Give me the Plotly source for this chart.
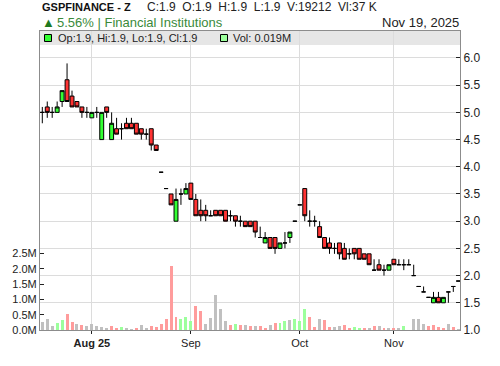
import plotly.graph_objects as go

# ---- data ----
opens = [5.0, 5.1, 5.0, 5.0, 5.2, 5.6, 5.3, 5.2, 5.1, 5.0,
         4.9, 5.0, 4.5, 5.1, 4.5, 4.7, 4.7, 4.8, 4.8, 4.8,
         4.7, 4.6, 4.7, 4.4, 3.9, 3.6, 3.5, 3.0, 3.5, 3.5,
         3.7, 3.4, 3.2, 3.2, 3.1, 3.2, 3.2, 3.2, 3.1, 3.1,
         3.0, 3.0, 3.0, 3.0, 2.7, 2.6, 2.7, 2.7, 2.5, 2.6,
         2.7, 3.0, 3.3, 3.6, 3.0, 3.0, 2.9, 2.7, 2.6, 2.5,
         2.6, 2.5, 2.4, 2.5, 2.5, 2.4, 2.4, 2.1, 2.2, 2.1,
         2.1, 2.3, 2.2, 2.2, 2.2, 2.0, 1.8, 1.7, 1.6, 1.5,
         1.6, 1.5, 1.7, 1.8, 1.9]
highs = [5.1, 5.2, 5.1, 5.2, 5.4, 5.9, 5.4, 5.2, 5.1, 5.1,
         5.0, 5.1, 5.0, 5.1, 5.0, 4.9, 4.8, 4.9, 4.9, 4.8,
         4.7, 4.7, 4.7, 4.4, 3.9, 3.6, 3.5, 3.6, 3.6, 3.7,
         3.7, 3.5, 3.4, 3.3, 3.2, 3.2, 3.2, 3.2, 3.2, 3.1,
         3.1, 3.0, 3.0, 3.0, 2.9, 2.8, 2.7, 2.7, 2.6, 2.8,
         2.8, 3.0, 3.3, 3.6, 3.2, 3.1, 3.0, 2.7, 2.7, 2.6,
         2.6, 2.6, 2.5, 2.5, 2.5, 2.4, 2.4, 2.3, 2.3, 2.2,
         2.2, 2.3, 2.3, 2.3, 2.3, 2.2, 1.8, 1.8, 1.6, 1.7,
         1.7, 1.6, 1.7, 1.8, 1.9]
lows = [4.8, 4.9, 4.9, 5.0, 5.1, 5.2, 5.1, 5.1, 4.9, 4.9,
        4.9, 4.9, 4.5, 4.9, 4.5, 4.6, 4.5, 4.7, 4.7, 4.6,
        4.5, 4.5, 4.3, 4.3, 3.9, 3.6, 3.3, 3.0, 3.3, 3.5,
        3.4, 3.1, 3.0, 3.0, 3.1, 3.1, 3.1, 3.0, 3.0, 2.9,
        2.9, 2.9, 2.9, 2.7, 2.7, 2.6, 2.5, 2.4, 2.5, 2.5,
        2.6, 3.0, 3.3, 3.0, 2.9, 2.9, 2.7, 2.5, 2.4, 2.4,
        2.3, 2.3, 2.3, 2.3, 2.3, 2.3, 2.2, 2.1, 2.1, 2.0,
        2.1, 2.2, 2.2, 2.1, 2.2, 2.0, 1.8, 1.7, 1.6, 1.5,
        1.5, 1.5, 1.5, 1.7, 1.9]
closes = [5.0, 5.0, 5.0, 5.1, 5.4, 5.2, 5.1, 5.1, 5.0, 5.0,
          5.0, 5.0, 5.0, 5.0, 4.8, 4.6, 4.7, 4.7, 4.7, 4.6,
          4.6, 4.6, 4.4, 4.3, 3.9, 3.6, 3.3, 3.4, 3.5, 3.6,
          3.4, 3.1, 3.1, 3.1, 3.1, 3.1, 3.1, 3.0, 3.1, 3.0,
          3.0, 2.9, 2.9, 2.8, 2.7, 2.7, 2.5, 2.5, 2.6, 2.6,
          2.8, 3.0, 3.3, 3.1, 3.0, 3.0, 2.7, 2.5, 2.5, 2.5,
          2.4, 2.3, 2.4, 2.4, 2.3, 2.3, 2.2, 2.1, 2.1, 2.1,
          2.2, 2.2, 2.2, 2.2, 2.2, 2.0, 1.8, 1.7, 1.6, 1.6,
          1.5, 1.6, 1.7, 1.8, 1.9]
volumes_m = [0.27, 0.36, 0.13, 0.23, 0.33, 0.52, 0.26, 0.20, 0.16, 0.13,
             0.20, 0.13, 0.10, 0.07, 0.13, 0.07, 0.10, 0.07, 0.03, 0.07,
             0.16, 0.07, 0.13, 0.10, 0.20, 0.36, 2.09, 0.42, 0.36, 0.42,
             0.29, 0.78, 0.62, 0.20, 0.39, 1.14, 0.68, 0.29, 0.16, 0.20,
             0.16, 0.16, 0.13, 0.13, 0.13, 0.04, 0.16, 0.23, 0.23, 0.29,
             0.33, 0.36, 0.29, 0.70, 0.43, 0.10, 0.36, 0.33, 0.10, 0.10,
             0.13, 0.16, 0.07, 0.10, 0.04, 0.04, 0.07, 0.13, 0.13, 0.07,
             0.04, 0.07, 0.04, 0.13, 0.0, 0.37, 0.37, 0.20, 0.13, 0.16,
             0.10, 0.04, 0.20, 0.10, 0.02]
# volume direction: u = up (green), d = down (red), n = unchanged (grey)
vol_dir = list("nnnuuddndn" "nnnnddunnd" "nndddddduu" "uddnnnnndu"
               "dndnddnduu" "nuuuddnddn" "ndduudndnd" "ndnunnnndd"
               "ddndnuuuuu")
x_tick_pos = [10, 30, 52, 71]
x_tick_text = ["<b>Aug 25</b>", "Sep", "Oct", "Nov"]
price_ticks = [1.0, 1.5, 2.0, 2.5, 3.0, 3.5, 4.0, 4.5, 5.0, 5.5, 6.0]
vol_ticks_m = [0.0, 0.5, 1.0, 1.5, 2.0, 2.5]

idx = list(range(len(closes)))
vol_colors = {"u": "#9cff9c", "d": "#ff9c9c", "n": "#c0c0c0"}

fig = go.Figure()
fig.add_trace(go.Bar(
    x=idx, y=[v * 1e6 for v in volumes_m], width=0.6,
    marker=dict(color=[vol_colors[d] for d in vol_dir], line=dict(width=0)),
    yaxis="y", hoverinfo="skip", showlegend=False))
fig.add_trace(go.Candlestick(
    x=idx, open=opens, high=highs, low=lows, close=closes, yaxis="y2",
    increasing=dict(fillcolor="#33ff33", line=dict(color="black", width=1)),
    decreasing=dict(fillcolor="#ff3333", line=dict(color="black", width=1)),
    whiskerwidth=0, hoverinfo="skip", showlegend=False))

L, R, T, B = 40, 40, 31, 36
PW, PH = 500 - L - R, 366 - T - B

def fx(x):
    return (x - L) / PW

def fy(y):
    return (366 - B - y) / PH

axis_line = "#8c8c8c"
grid = "#dcdcdc"
font = "Liberation Sans, Arial, sans-serif"

fig.update_layout(
    width=500, height=366, margin=dict(l=L, r=R, t=T, b=B),
    paper_bgcolor="white", plot_bgcolor="white",
    font=dict(family=font, size=11, color="#222"),
    boxgap=0.1, boxgroupgap=0.12, bargap=0,
    showlegend=False,
    xaxis=dict(range=[-0.464, 84.35], tickvals=x_tick_pos, ticktext=x_tick_text,
               showgrid=True, gridcolor=grid, gridwidth=1,
               showline=True, linecolor=axis_line, mirror=True,
               ticks="outside", ticklen=3, tickcolor="#222",
               tickfont=dict(size=11, color="#222"),
               rangeslider=dict(visible=False), zeroline=False, fixedrange=True),
    yaxis=dict(range=[0, 9.77e6], side="left",
               tickvals=[v * 1e6 for v in vol_ticks_m],
               ticktext=["%.1fM" % v for v in vol_ticks_m],
               showgrid=False, zeroline=False, showline=True, linecolor=axis_line,
               ticks="inside", ticklen=4, tickcolor="#222",
               tickfont=dict(size=11, color="#222"), fixedrange=True),
    yaxis2=dict(range=[1.0, 6.496], side="right", overlaying="y",
                tickvals=price_ticks, ticktext=["%.1f" % v for v in price_ticks],
                showgrid=True, gridcolor=grid, gridwidth=1, zeroline=False,
                showline=True, linecolor=axis_line,
                ticks="inside", ticklen=4, tickcolor="#222",
                tickfont=dict(size=12, color="#222"), fixedrange=True),
)

# legend strip at top of plot
fig.add_shape(type="rect", xref="paper", yref="paper", x0=0, x1=1,
              y0=fy(45), y1=1, fillcolor="#e6e6e6", line=dict(width=0), layer="below")
fig.add_shape(type="rect", xref="paper", yref="paper", x0=fx(44.5), x1=fx(51.5),
              y0=fy(41.5), y1=fy(34.5), fillcolor="#33ff33",
              line=dict(color="black", width=1))
fig.add_shape(type="rect", xref="paper", yref="paper", x0=fx(220.5), x1=fx(227.5),
              y0=fy(41.5), y1=fy(34.5), fillcolor="#9cff9c",
              line=dict(color="black", width=1))

def note(text, x, y, size, color="#222", anchor="left"):
    fig.add_annotation(text=text, x=fx(x), y=fy(y), xref="paper", yref="paper",
                       xanchor=anchor, yanchor="middle", showarrow=False,
                       font=dict(size=size, color=color, family=font))

nb = "\u00a0"
note("<b>GSPFINANCE - Z</b>", 40, 7, 11, "#111")
note(("C:1.9" + nb * 2 + "O:1.9" + nb * 2 + "H:1.9" + nb * 2 + "L:1.9" + nb * 2 +
      "V:19212" + nb * 2 + "Vl:37 K"), 145, 7, 12)
note("▲", 40, 22, 13, "#1f7a1f")
note("5.56% | Financial Institutions", 55, 22, 13, "#3a8a3a")
note("Nov 19, 2025", 461, 22, 13, "#222", anchor="right")
note("Op:1.9, Hi:1.9, Lo:1.9, Cl:1.9", 55.5, 38, 11)
note("Vol: 0.019M", 231, 38, 11)

fig.write_html("out.html")
